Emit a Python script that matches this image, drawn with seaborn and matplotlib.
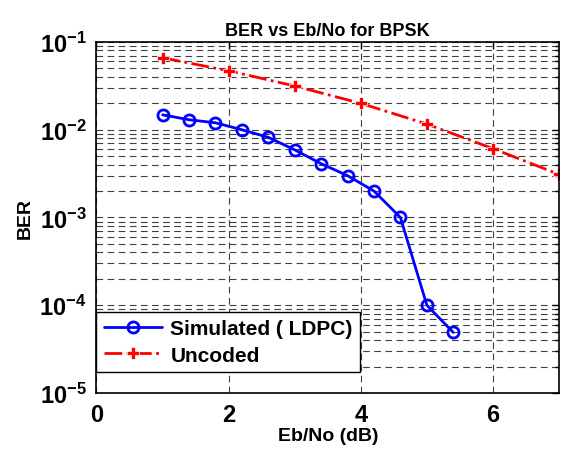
import numpy as np
import pandas as pd
import matplotlib
matplotlib.use("Agg")
import matplotlib.pyplot as plt
import seaborn as sns
from matplotlib.ticker import LogLocator, FixedLocator

sns.set_style("white")
plt.rcParams['font.family'] = ['Liberation Sans', 'DejaVu Sans']
plt.rcParams['font.weight'] = 'bold'
plt.rcParams['mathtext.fontset'] = 'custom'
plt.rcParams['mathtext.rm'] = 'Liberation Sans:bold'
plt.rcParams['mathtext.bf'] = 'Liberation Sans:bold'
plt.rcParams['mathtext.default'] = 'bf'
for key in ['text.color', 'axes.labelcolor', 'xtick.color', 'ytick.color']:
    plt.rcParams[key] = 'black'

# data
ebno_ldpc = [1.0, 1.4, 1.8, 2.2, 2.6, 3.0, 3.4, 3.8, 4.2, 4.6, 5.0, 5.4]
ber_ldpc = [1.48e-2, 1.3e-2, 1.2e-2, 1.0e-2, 8.2e-3, 5.9e-3, 4.1e-3, 3.0e-3,
            2.0e-3, 1.0e-3, 1.0e-4, 4.9e-5]
ebno_unc = [1, 2, 3, 4, 5, 6, 7]
ber_unc = [6.6e-2, 4.7e-2, 3.15e-2, 2.0e-2, 1.16e-2, 6.1e-3, 3.1e-3]

df_ldpc = pd.DataFrame({'ebno': ebno_ldpc, 'ber': ber_ldpc})
df_unc = pd.DataFrame({'ebno': ebno_unc, 'ber': ber_unc})

fig = plt.figure(figsize=(5.62, 4.52), dpi=100)
ax = fig.add_axes([0.1717, 0.1283, 0.823, 0.7766])

sns.lineplot(data=df_ldpc, x='ebno', y='ber', ax=ax, sort=False, estimator=None,
             color='#0000ff', linewidth=2, marker='o', markersize=8,
             markerfacecolor='none', markeredgecolor='#0000ff', markeredgewidth=2,
             label='Simulated ( LDPC)')
sns.lineplot(data=df_unc, x='ebno', y='ber', ax=ax, sort=False, estimator=None,
             color='#ff0000', linewidth=2, linestyle='-.', marker='P', markersize=8,
             markeredgewidth=0.5, label='Uncoded')

ax.set_yscale('log')
ax.set_xlim(0, 7)
ax.set_ylim(1e-5, 1e-1)
ax.xaxis.set_major_locator(FixedLocator([0, 2, 4, 6]))
ax.yaxis.set_major_locator(LogLocator(base=10, numticks=10))
ax.yaxis.set_minor_locator(LogLocator(base=10, subs=np.arange(2, 10), numticks=20))

grid_kw = dict(color='#404040', linestyle=(0, (6, 4)), linewidth=0.8)
ax.grid(True, which='major', axis='both', **grid_kw)
ax.grid(True, which='minor', axis='y', **grid_kw)

ax.tick_params(axis='both', which='both', direction='in', top=True, right=True,
               labelsize=17, width=1, color='black')
ax.tick_params(axis='y', which='minor', labelleft=False, length=3)
ax.tick_params(axis='both', which='major', length=5, pad=7)
for s in ax.spines.values():
    s.set_color('black')
    s.set_linewidth(1.2)

ax.set_xlabel('Eb/No (dB)', fontsize=14, fontweight='bold', labelpad=1)
ax.set_ylabel('BER', fontsize=14, fontweight='bold', labelpad=4)
ax.set_title('BER vs Eb/No for BPSK', fontsize=13, fontweight='bold', pad=5)

leg = ax.legend(loc='lower left', bbox_to_anchor=(0, 0.06), borderaxespad=0,
                fancybox=False, framealpha=1, edgecolor='black', fontsize=15,
                handlelength=2.8, handletextpad=0.4, borderpad=0.35, labelspacing=0.35)
leg.get_frame().set_linewidth(1)

fig.savefig('out.png', dpi=100)
